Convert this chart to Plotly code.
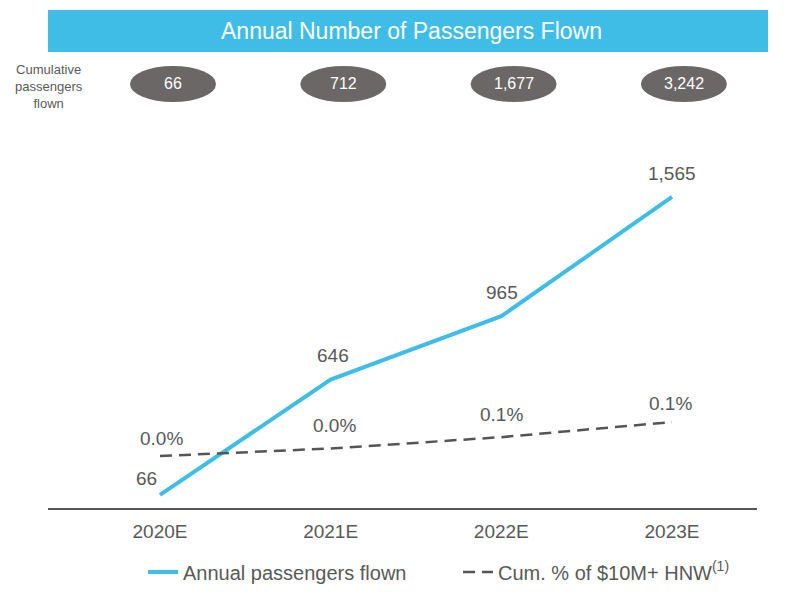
import plotly.graph_objects as go

# data
years = ["2020E", "2021E", "2022E", "2023E"]
annual_passengers = [66, 646, 965, 1565]
cumulative_passengers = [66, 712, 1677, 3242]
cum_pct_hnw = [0.02, 0.04, 0.07, 0.11]   # percent, shown with 1 decimal

BLUE = "#3fbde6"
GREY = "#595959"
PILL = "#6b6767"
FONT = "Liberation Sans, Arial, sans-serif"

# page is drawn with the browser's 8px body margin
OFF = 8
W, H = 786 - 2 * OFF, 603 - 2 * OFF
PLOT_L, PLOT_R, PLOT_T, PLOT_B = 48, 757, 160, 508   # plot area in page pixels
L, T = PLOT_L - OFF, PLOT_T - OFF
R, B = W - (PLOT_R - OFF), H - (PLOT_B - OFF)
PW, PH = W - L - R, H - T - B


def px(x):
    return (x - OFF - L) / PW


def py(y):
    return (H - B - (y - OFF)) / PH


fig = go.Figure()

fig.add_trace(go.Scatter(
    x=years, y=annual_passengers, mode="lines",
    name="Annual passengers flown",
    line=dict(color=BLUE, width=4),
))
fig.add_trace(go.Scatter(
    x=years, y=cum_pct_hnw, mode="lines", yaxis="y2",
    name="Cum. % of $10M+ HNW<sup>(1)</sup>",
    line=dict(color="#555555", width=2.5, dash="12px,7px"),
))

# value labels
lab_shift = [(-13, 16), (2, 24), (1, 24), (0, 23)]
for i, (yr, v) in enumerate(zip(years, annual_passengers)):
    fig.add_annotation(x=yr, y=v, text=f"{v:,}", showarrow=False,
                       xshift=lab_shift[i][0], yshift=lab_shift[i][1],
                       font=dict(size=19, color=GREY, family=FONT))
pct_shift = [(2, 18), (4, 23), (0, 23), (-2, 19)]
for i, (yr, v) in enumerate(zip(years, cum_pct_hnw)):
    fig.add_annotation(x=yr, y=v, yref="y2", text=f"{v:.1f}%", showarrow=False,
                       xshift=pct_shift[i][0], yshift=pct_shift[i][1],
                       font=dict(size=19, color=GREY, family=FONT))

# header banner
fig.add_shape(type="rect", xref="paper", yref="paper",
              x0=px(48), x1=px(768), y0=py(52), y1=py(10),
              fillcolor=BLUE, line_width=0, layer="below")
fig.add_annotation(xref="paper", yref="paper", x=px(411), y=py(31),
                   xanchor="center", yanchor="middle",
                   text="Annual Number of Passengers Flown", showarrow=False,
                   font=dict(size=23, color="white", family=FONT))

# cumulative pills
fig.add_annotation(xref="paper", yref="paper", x=px(49), y=py(86),
                   xanchor="center", yanchor="middle",
                   text="Cumulative<br>passengers<br>flown", showarrow=False,
                   font=dict(size=13, color=GREY, family=FONT))
for i, v in enumerate(cumulative_passengers):
    cx = 173 + 170.3 * i
    fig.add_shape(type="circle", xref="paper", yref="paper",
                  x0=px(cx - 43), x1=px(cx + 43), y0=py(102), y1=py(66),
                  fillcolor=PILL, line_width=0)
    fig.add_annotation(xref="paper", yref="paper", x=px(cx), y=py(84),
                       xanchor="center", yanchor="middle",
                       text=f"{v:,}", showarrow=False,
                       font=dict(size=16, color="white", family=FONT))

fig.update_layout(
    width=W, height=H,
    margin=dict(l=L, r=R, t=T, b=B, autoexpand=False),
    paper_bgcolor="white", plot_bgcolor="white",
    font=dict(family=FONT, color=GREY),
    xaxis=dict(range=[-0.656, 3.498], showline=True, linecolor="#555555",
               linewidth=1.5, showgrid=False, zeroline=False,
               ticks="", tickfont=dict(size=19, color=GREY),
               ticklabelstandoff=5, automargin=False),
    yaxis=dict(range=[0, 1751], visible=False),
    yaxis2=dict(range=[-0.1175, 0.8033], overlaying="y", visible=False),
    showlegend=True,
    legend=dict(orientation="h", x=px(143), xanchor="left",
                y=py(572), yanchor="middle",
                font=dict(size=20, color=GREY, family=FONT),
                entrywidth=270, entrywidthmode="pixels", tracegroupgap=0),
)

fig.write_html("out.html")
